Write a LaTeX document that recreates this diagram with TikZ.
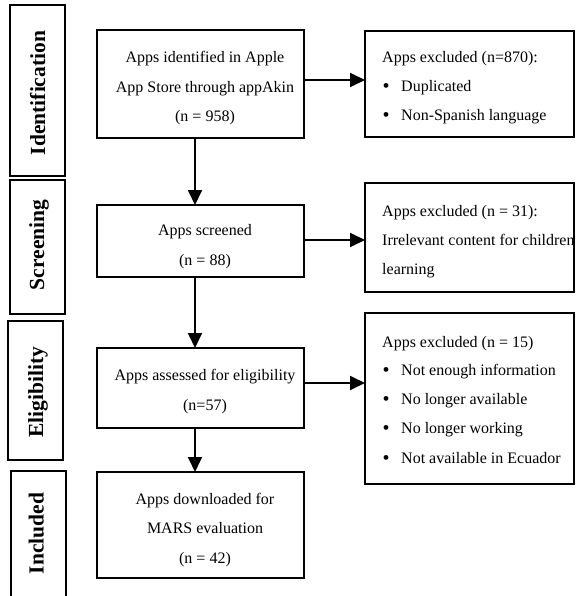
\documentclass[tikz,border=0pt]{standalone}
\usepackage{fontspec}
\setmainfont{Liberation Serif}
\usetikzlibrary{arrows.meta}
\begin{document}
\begin{tikzpicture}[x=1pt,y=-1pt,
  box/.style={draw,line width=1.8pt,rectangle,inner sep=0pt,outer sep=0pt},
  phase/.style={font=\fontsize{21.5}{24}\selectfont\bfseries,rotate=90,anchor=base,inner sep=0pt},
  txt/.style={font=\fontsize{16}{18}\selectfont,inner sep=0pt},
  ctxt/.style={txt,anchor=base},
  ltxt/.style={txt,anchor=base west},
  bul/.style={font=\fontsize{20}{22}\selectfont,inner sep=0pt,anchor=base},
  flow/.style={line width=1.8pt,-{Triangle[length=15pt,width=14pt]}}]
\clip (0,0) rectangle (575,596);
\fill[white] (0,0) rectangle (575,596);
% phase boxes
\node[box,minimum width=55pt,minimum height=171pt] (pid) at (37.5,90.5) {};
\node[box,minimum width=55pt,minimum height=134pt] (psc) at (37.5,247) {};
\node[box,minimum width=55pt,minimum height=139pt] (pel) at (35.5,390.5) {};
\node[box,minimum width=55pt,minimum height=140pt] (pin) at (38.5,541) {};
\node[phase] (lid) at (45,93) {Identification};
\node[phase] (lsc) at (44,245) {Screening};
\node[phase] (lel) at (43,392) {Eligibility};
\node[phase] (lin) at (43.5,533.5) {Included};
% main boxes
\node[box,minimum width=207pt,minimum height=108pt] (b1) at (200.5,84) {};
\node[box,minimum width=207pt,minimum height=72pt] (b2) at (200.5,241) {};
\node[box,minimum width=207pt,minimum height=80pt] (b3) at (200.5,388) {};
\node[box,minimum width=207pt,minimum height=106pt] (b4) at (200.5,525) {};
\node[ctxt] (t11) at (205,63) {Apps identified in Apple};
\node[ctxt] (t12) at (205,92.5) {App Store through appAkin};
\node[ctxt] (t13) at (205,122) {(n = 958)};
\node[ctxt] (t21) at (205,235) {Apps screened};
\node[ctxt] (t22) at (205,265) {(n = 88)};
\node[ctxt] (t31) at (205,380) {Apps assessed for eligibility};
\node[ctxt] (t32) at (205,410) {(n=57)};
\node[ctxt] (t41) at (205,504) {Apps downloaded for};
\node[ctxt] (t42) at (205,533) {MARS evaluation};
\node[ctxt] (t43) at (205,563) {(n = 42)};
% right boxes
\node[box,minimum width=209pt,minimum height=106pt] (r1) at (469.5,84) {};
\node[box,minimum width=209pt,minimum height=109pt] (r2) at (469.5,237.5) {};
\node[box,minimum width=209pt,minimum height=171pt] (r3) at (469.5,398.5) {};
\node[ltxt] (s11) at (382,63) {Apps excluded (n=870):};
\node[bul] (u12) at (386,93) {•};
\node[ltxt] (s12) at (401,92) {Duplicated};
\node[bul] (u13) at (386,122) {•};
\node[ltxt] (s13) at (401,121) {Non-Spanish language};
\node[ltxt] (s21) at (382,216) {Apps excluded (n = 31):};
\node[ltxt] (s22) at (382,245) {Irrelevant content for children};
\node[ltxt] (s23) at (382,274) {learning};
\node[ltxt] (s31) at (382,347) {Apps excluded (n = 15)};
\node[bul] (u32) at (386,376) {•};
\node[ltxt] (s32) at (401,375) {Not enough information};
\node[bul] (u33) at (386,405) {•};
\node[ltxt] (s33) at (401,404) {No longer available};
\node[bul] (u34) at (386,434) {•};
\node[ltxt] (s34) at (401,433) {No longer working};
\node[bul] (u35) at (386,464) {•};
\node[ltxt] (s35) at (401,463) {Not available in Ecuador};
% connectors
\coordinate (ax) at (195,0);
\coordinate (h1) at (0,80);
\coordinate (h2) at (0,240);
\coordinate (h3) at (0,383);
\draw[flow] (b1.south -| ax) -- (b2.north -| ax);
\draw[flow] (b2.south -| ax) -- (b3.north -| ax);
\draw[flow] (b3.south -| ax) -- (b4.north -| ax);
\draw[flow] (b1.east |- h1) -- (r1.west |- h1);
\draw[flow] (b2.east |- h2) -- (r2.west |- h2);
\draw[flow] (b3.east |- h3) -- (r3.west |- h3);
\end{tikzpicture}
\end{document}
